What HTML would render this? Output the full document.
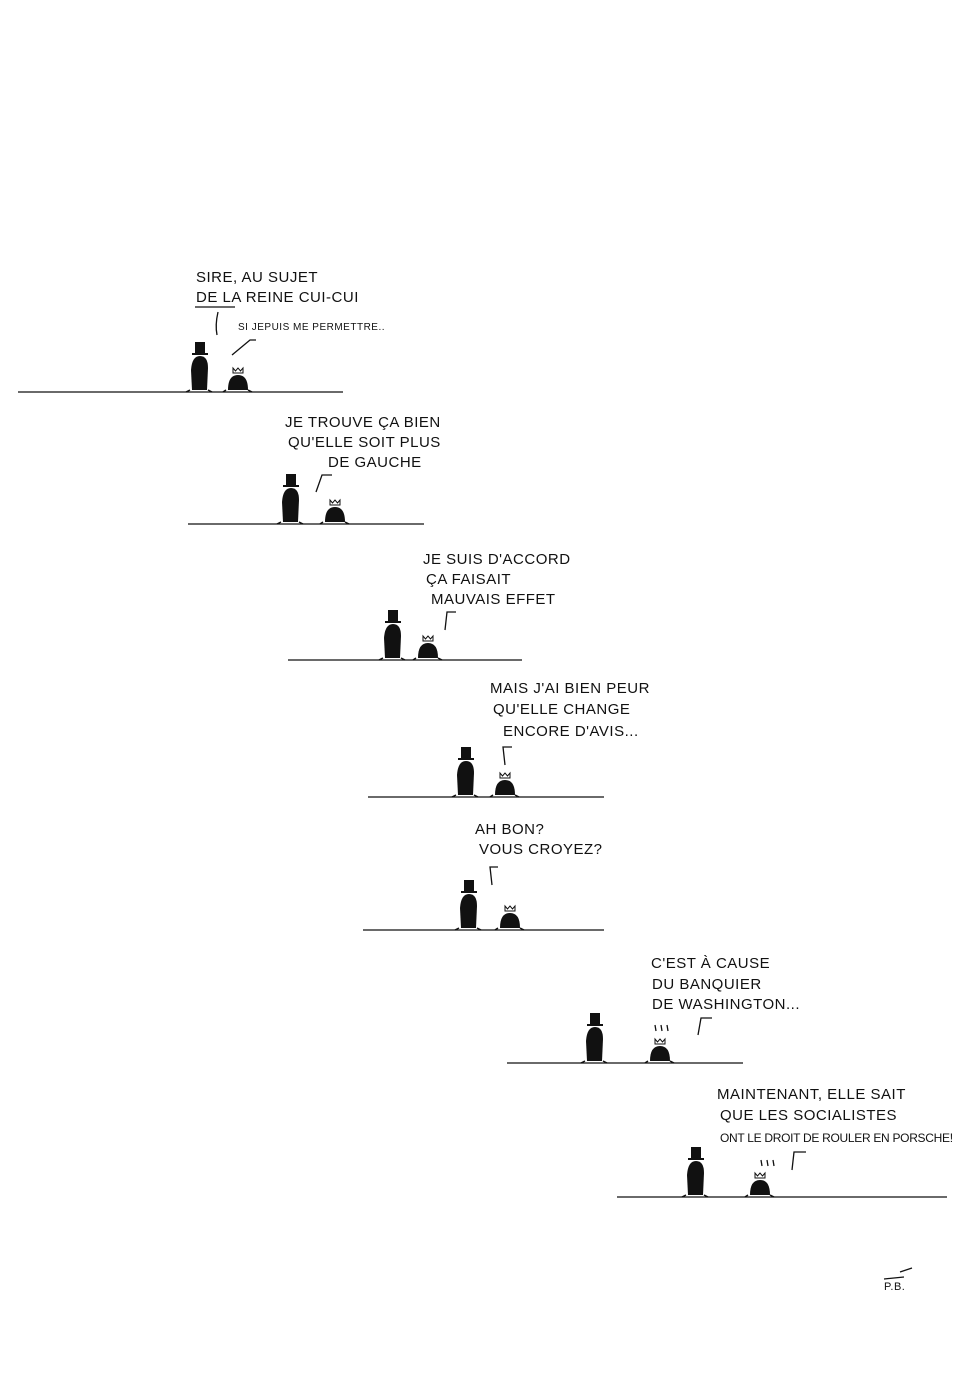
<!DOCTYPE html>
<html><head><meta charset="utf-8"><style>
html,body{margin:0;padding:0;background:#fff}
svg{display:block}
text{font-family:"Liberation Sans",sans-serif;font-size:15px;fill:#111;letter-spacing:0.5px}
</style></head><body>
<svg width="980" height="1392" viewBox="0 0 980 1392">
<defs>
<g id="man"><rect x="-5" y="-48" width="10" height="12" fill="#111"/><rect x="-8" y="-37" width="16" height="2" fill="#111"/><path d="M-8 0 L-9 -20 Q-8 -34 0 -34 Q8 -34 8 -22 L7 0 Z" fill="#111"/><path d="M-10 0 l-4 2 M8 0 l4 2" stroke="#111" stroke-width="1.5"/></g>
<g id="queen"><path d="M-10 0 Q-10 -15 0 -15 Q10 -15 10 0 Z" fill="#111"/><path d="M-5 -17 l0 -5 l2.5 3 l2.5 -3 l2.5 3 l2.5 -3 l0 5 Z" fill="none" stroke="#111" stroke-width="1"/><path d="M-12 0 l-3 2 M10 0 l4 2" stroke="#111" stroke-width="1.5"/></g>
</defs>
<g stroke="#111" stroke-width="1.3" fill="none">
<line x1="18" y1="392" x2="343" y2="392"/>
<line x1="188" y1="524" x2="424" y2="524"/>
<line x1="288" y1="660" x2="522" y2="660"/>
<line x1="368" y1="797" x2="604" y2="797"/>
<line x1="363" y1="930" x2="604" y2="930"/>
<line x1="507" y1="1063" x2="743" y2="1063"/>
<line x1="617" y1="1197" x2="947" y2="1197"/>
<path d="M195 307 L235 307 M218 312 Q215 325 217 335"/>
<path d="M232 355 L250 340 L256 340"/>
<path d="M316 492 L322 475 L332 475"/>
<path d="M445 630 L447 612 L456 612"/>
<path d="M505 765 L503 747 L512 747"/>
<path d="M492 885 L490 867 L498 867"/>
<path d="M698 1035 L701 1018 L712 1018"/>
<path d="M792 1170 L794 1152 L806 1152"/>
<path d="M656 1031 l-1 -6 M662 1031 l-1 -6 M668 1031 l-1 -6"/>
<path d="M762 1166 l-1 -6 M768 1166 l-1 -6 M774 1166 l-1 -6"/>
<path d="M884 1279 L904 1277 M900 1272 L912 1268"/>
</g>
<use href="#man" x="200" y="390"/><use href="#queen" x="238" y="390"/>
<use href="#man" x="291" y="522"/><use href="#queen" x="335" y="522"/>
<use href="#man" x="393" y="658"/><use href="#queen" x="428" y="658"/>
<use href="#man" x="466" y="795"/><use href="#queen" x="505" y="795"/>
<use href="#man" x="469" y="928"/><use href="#queen" x="510" y="928"/>
<use href="#man" x="595" y="1061"/><use href="#queen" x="660" y="1061"/>
<use href="#man" x="696" y="1195"/><use href="#queen" x="760" y="1195"/>
<text x="196" y="282">SIRE, AU SUJET</text>
<text x="196" y="302">DE LA REINE CUI-CUI</text>
<text x="238" y="330" style="font-size:10px">SI JEPUIS ME PERMETTRE..</text>
<text x="285" y="427">JE TROUVE ÇA BIEN</text>
<text x="288" y="447">QU'ELLE SOIT PLUS</text>
<text x="328" y="467">DE GAUCHE</text>
<text x="423" y="564">JE SUIS D'ACCORD</text>
<text x="426" y="584">ÇA FAISAIT</text>
<text x="431" y="604">MAUVAIS EFFET</text>
<text x="490" y="693">MAIS J'AI BIEN PEUR</text>
<text x="493" y="714">QU'ELLE CHANGE</text>
<text x="503" y="736">ENCORE D'AVIS...</text>
<text x="475" y="834">AH BON?</text>
<text x="479" y="854">VOUS CROYEZ?</text>
<text x="651" y="968">C'EST À CAUSE</text>
<text x="652" y="989">DU BANQUIER</text>
<text x="652" y="1009">DE WASHINGTON...</text>
<text x="717" y="1099">MAINTENANT, ELLE SAIT</text>
<text x="720" y="1120">QUE LES SOCIALISTES</text>
<text x="720" y="1142" style="font-size:12px;letter-spacing:-0.3px">ONT LE DROIT DE ROULER EN PORSCHE!</text>
<text x="884" y="1290" style="font-size:11px">P.B.</text>
</svg>
</body></html>
